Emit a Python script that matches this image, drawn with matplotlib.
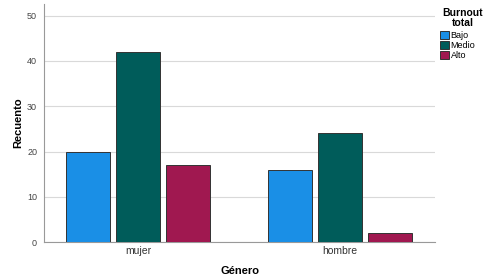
import numpy as np
import matplotlib.pyplot as plt

plt.rcParams['font.family'] = ['Liberation Sans', 'DejaVu Sans']

categories = ["mujer", "hombre"]
series = ["Bajo", "Medio", "Alto"]
bajo = [20, 16]
medio = [42, 24]
alto = [17, 2]
values = [bajo, medio, alto]
colors = ["#1a8fe6", "#005c5a", "#a01850"]

fig = plt.figure(figsize=(4.84, 2.77), dpi=100)
ax = fig.add_axes([0.091, 0.126, 0.808, 0.86])

x = np.arange(len(categories))
width = 0.218
step = 0.248
for i, (name, vals) in enumerate(zip(series, values)):
    ax.bar(x + (i - 1) * step, vals, width, color=colors[i], edgecolor="#333333",
           linewidth=0.7, label=name, zorder=3)

ax.set_xlim(-0.465, 1.47)
ax.set_ylim(0, 52.6)
ax.set_yticks(range(0, 51, 10))
ax.set_xticks(x)
ax.set_xticklabels(categories, fontsize=7.5, color="#333333")
ax.tick_params(axis="y", labelsize=6.5, colors="#444444", length=0, pad=5)
ax.tick_params(axis="x", length=0, pad=3)
ax.yaxis.grid(True, color="#d9d9d9", linewidth=0.8, zorder=0)
for s in ["top", "right"]:
    ax.spines[s].set_visible(False)
for s in ["left", "bottom"]:
    ax.spines[s].set_color("#999999")
    ax.spines[s].set_linewidth(0.8)

ax.set_ylabel("Recuento", fontsize=8, fontweight="bold", labelpad=3)
ax.set_xlabel("Género", fontsize=8, fontweight="bold", labelpad=7)

# legend title centred above left-aligned entries
fig.text(463 / 484, 1 - 18 / 277, "Burnout\ntotal", ha="center", va="center",
         fontsize=7.5, fontweight="bold", linespacing=0.95)
ax.legend(loc="upper left", bbox_to_anchor=(438 / 484, 1 - 29 / 277),
          bbox_transform=fig.transFigure, frameon=False, fontsize=6.5,
          handlelength=1.0, handleheight=1.0, handletextpad=0.2,
          labelspacing=0.1, borderaxespad=0, borderpad=0.2)

fig.savefig("out.png", dpi=100)
